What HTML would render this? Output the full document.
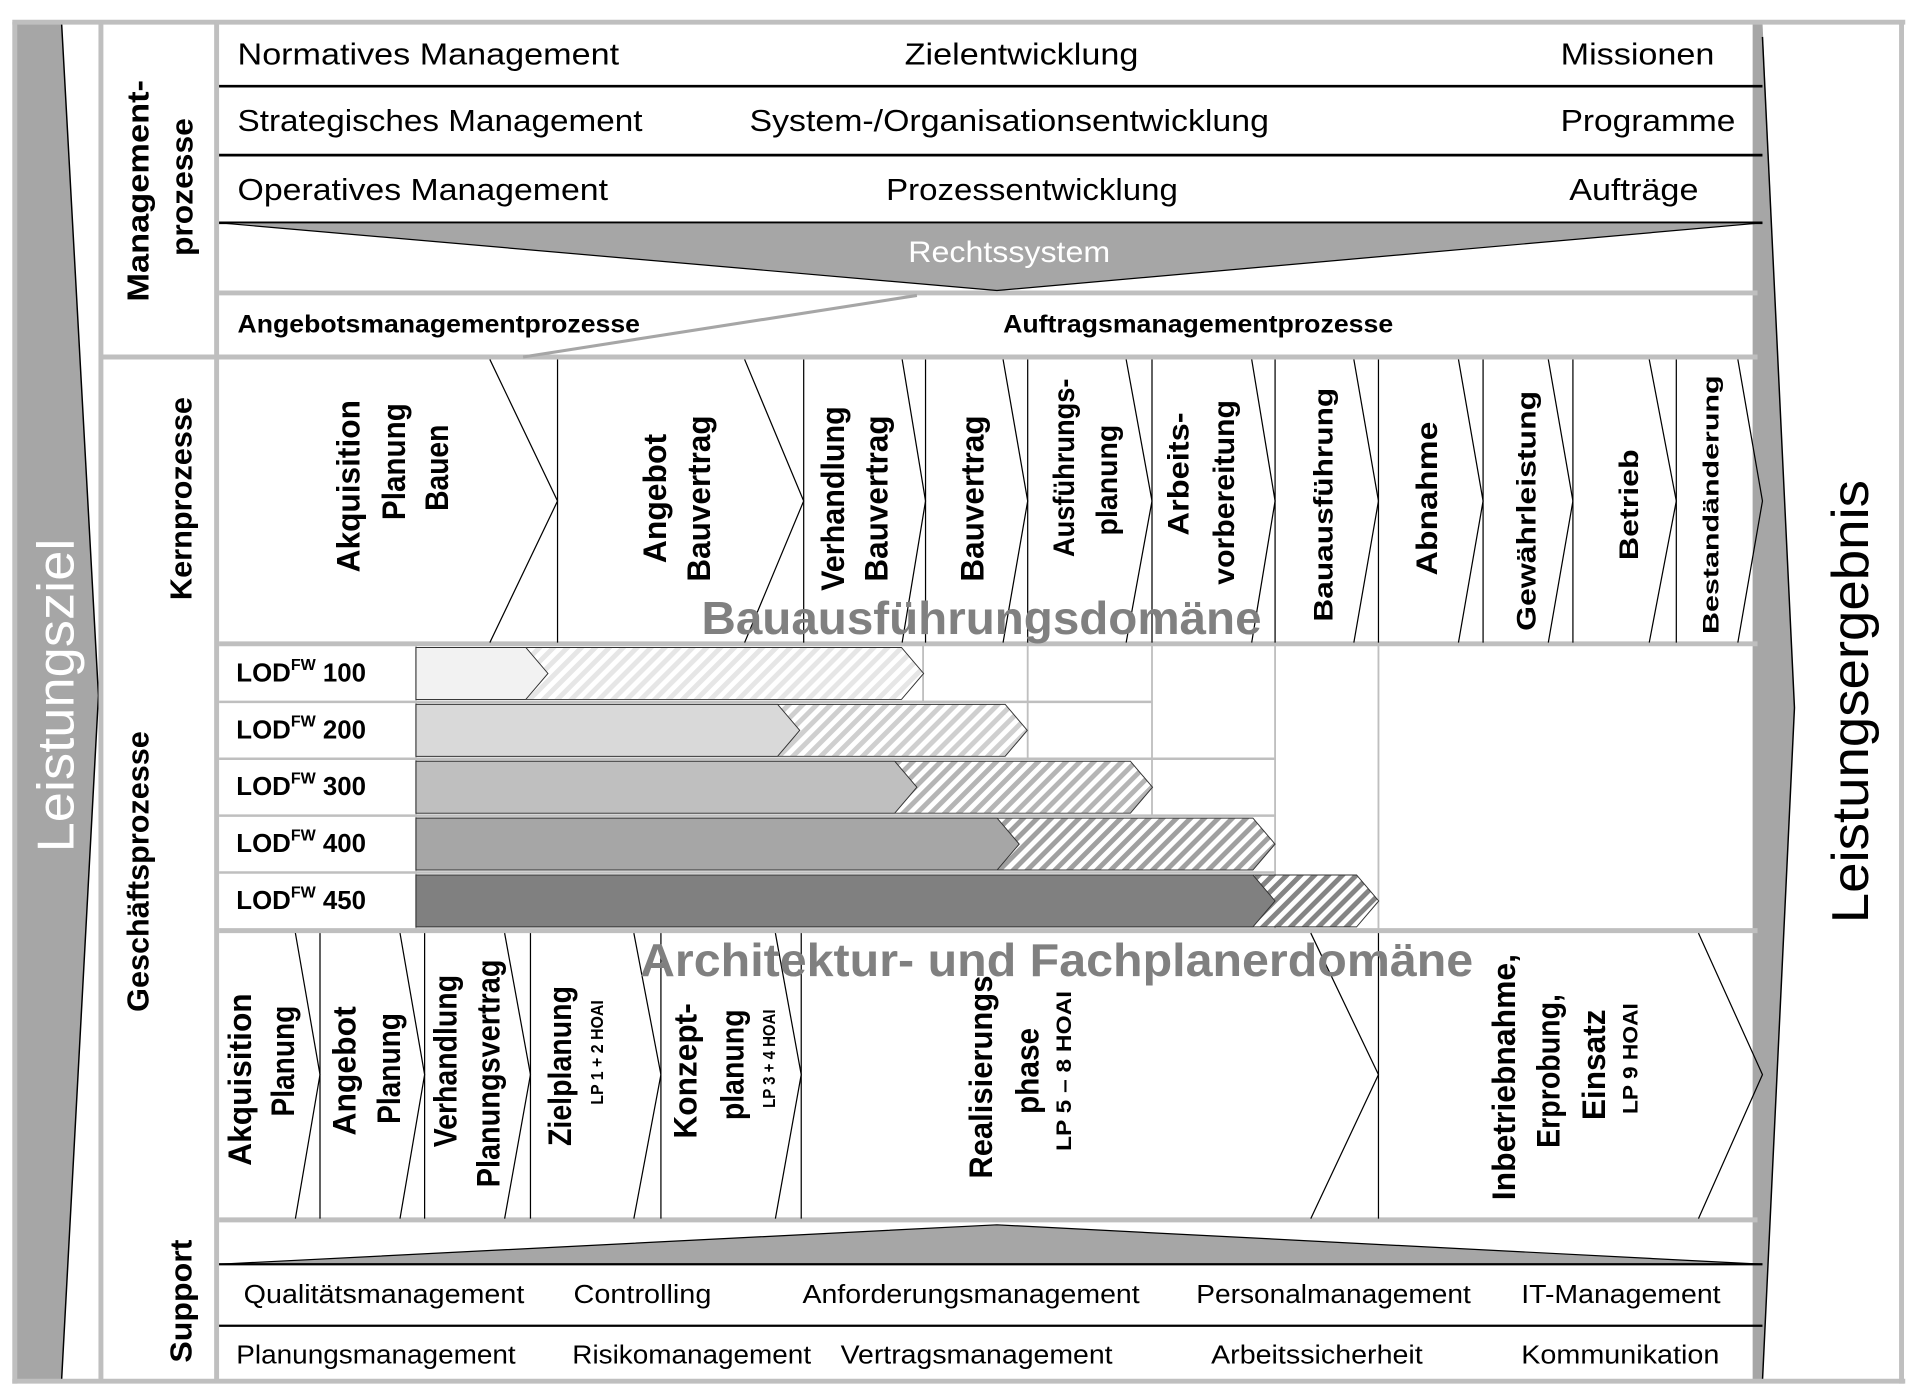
<!DOCTYPE html>
<html><head><meta charset="utf-8"><style>
html,body{margin:0;padding:0;background:#fff}
svg{display:block}
text{font-family:"Liberation Sans",sans-serif}
.b{font-weight:bold}
</style></head><body>
<svg id="s" width="1920" height="1391" viewBox="0 0 1560 1130" preserveAspectRatio="none">
<defs>
<pattern id="h0" width="8" height="8" patternUnits="userSpaceOnUse" patternTransform="rotate(45)"><rect width="8" height="8" fill="#fff"/><rect width="4" height="8" fill="#e6e6e6"/></pattern>
<pattern id="h1" width="8" height="8" patternUnits="userSpaceOnUse" patternTransform="rotate(45)"><rect width="8" height="8" fill="#fff"/><rect width="4" height="8" fill="#cfcfcf"/></pattern>
<pattern id="h2" width="8" height="8" patternUnits="userSpaceOnUse" patternTransform="rotate(45)"><rect width="8" height="8" fill="#fff"/><rect width="4" height="8" fill="#b5b5b5"/></pattern>
<pattern id="h3" width="8" height="8" patternUnits="userSpaceOnUse" patternTransform="rotate(45)"><rect width="8" height="8" fill="#fff"/><rect width="4" height="8" fill="#a0a0a0"/></pattern>
<pattern id="h4" width="8" height="8" patternUnits="userSpaceOnUse" patternTransform="rotate(45)"><rect width="8" height="8" fill="#fff"/><rect width="4" height="8" fill="#858585"/></pattern>
</defs>
<polygon points="12,18 50,18 80,565 50,1122 12,1122" fill="#a6a6a6"/>
<polyline points="50,18 80,565 50,1122" fill="none" stroke="#000" stroke-width="1.2"/>
<polygon points="1424,18 1432,18 1458,575 1432,1122 1424,1122" fill="#a6a6a6"/>
<polyline points="1432,30 1458,575 1432,1122" fill="none" stroke="#000" stroke-width="1.2"/>
<text transform="translate(45,565) rotate(-90)" text-anchor="middle" dominant-baseline="central" font-size="42" fill="#fff" textLength="255">Leistungsziel</text>
<text transform="translate(1503,570) rotate(-90)" text-anchor="middle" dominant-baseline="central" font-size="42" fill="#000" textLength="360">Leistungsergebnis</text>
<g stroke="#bfbfbf" stroke-width="4" fill="none">
<line x1="10" y1="18" x2="1548" y2="18"/>
<line x1="10" y1="1122" x2="1548" y2="1122"/>
<line x1="12" y1="18" x2="12" y2="1124"/>
<line x1="1545" y1="18" x2="1545" y2="1124"/>
<line x1="82" y1="18" x2="82" y2="1122"/>
<line x1="176" y1="18" x2="176" y2="1122"/>
<line x1="178" y1="238" x2="1428" y2="238"/>
<line x1="82" y1="290" x2="1428" y2="290"/>
<line x1="178" y1="523" x2="1428" y2="523"/>
<line x1="178" y1="756" x2="1428" y2="756"/>
<line x1="178" y1="991" x2="1428" y2="991"/>
</g>
<g stroke="#000" stroke-width="2.2">
<line x1="178" y1="70" x2="1432" y2="70"/><line x1="178" y1="126" x2="1432" y2="126"/><line x1="178" y1="181" x2="1432" y2="181"/>
</g>
<g font-size="25" dominant-baseline="central">
<text x="193" y="44" textLength="310">Normatives Management</text>
<text x="735" y="44" textLength="190">Zielentwicklung</text>
<text x="1268" y="44" textLength="125">Missionen</text>
<text x="193" y="98" textLength="329">Strategisches Management</text>
<text x="609" y="98" textLength="422">System-/Organisationsentwicklung</text>
<text x="1268" y="98" textLength="142">Programme</text>
<text x="193" y="154" textLength="301">Operatives Management</text>
<text x="720" y="154" textLength="237">Prozessentwicklung</text>
<text x="1275" y="154" textLength="105">Aufträge</text>
</g>
<polygon points="178,181 1432,181 810,236" fill="#a6a6a6" stroke="#000" stroke-width="1"/>
<text x="738" y="205" font-size="24" fill="#fff" dominant-baseline="central" textLength="164">Rechtssystem</text>
<line x1="745" y1="240" x2="425" y2="290" stroke="#a6a6a6" stroke-width="2.5"/>
<text class="b" x="193" y="264" font-size="20" dominant-baseline="central" textLength="327">Angebotsmanagementprozesse</text>
<text class="b" x="815" y="264" font-size="20" dominant-baseline="central" textLength="317">Auftragsmanagementprozesse</text>
<g class="b" font-size="25" text-anchor="middle" dominant-baseline="central">
<text transform="translate(112,155) rotate(-90)" textLength="180">Management-</text>
<text transform="translate(148,152) rotate(-90)" textLength="112">prozesse</text>
<text transform="translate(147,405) rotate(-90)" textLength="165">Kernprozesse</text>
<text transform="translate(112,708) rotate(-90)" textLength="228">Geschäftsprozesse</text>
<text transform="translate(147,1057) rotate(-90)" textLength="100">Support</text>
</g>
<g id="kern"></g>
<g id="lod"></g>
<g id="arch"></g>
<text class="b" x="570" y="502" font-size="38" fill="#808080" dominant-baseline="central" textLength="455">Bauausführungsdomäne</text>
<text class="b" x="520" y="780" font-size="38" fill="#808080" dominant-baseline="central" textLength="677">Architektur- und Fachplanerdomäne</text>
<polygon points="178,1027 810,995 1432,1027" fill="#a6a6a6" stroke="#000" stroke-width="1"/>
<line x1="178" y1="1027" x2="1432" y2="1027" stroke="#000" stroke-width="1.8"/>
<line x1="178" y1="1077" x2="1432" y2="1077" stroke="#000" stroke-width="1.8"/>
<g font-size="21" dominant-baseline="central">
<text x="198" y="1052" textLength="228">Qualitätsmanagement</text>
<text x="466" y="1052" textLength="112">Controlling</text>
<text x="652" y="1052" textLength="274">Anforderungsmanagement</text>
<text x="972" y="1052" textLength="223">Personalmanagement</text>
<text x="1236" y="1052" textLength="162">IT-Management</text>
<text x="192" y="1101" textLength="227">Planungsmanagement</text>
<text x="465" y="1101" textLength="194">Risikomanagement</text>
<text x="683" y="1101" textLength="221">Vertragsmanagement</text>
<text x="984" y="1101" textLength="172">Arbeitssicherheit</text>
<text x="1236" y="1101" textLength="161">Kommunikation</text>
</g>
</svg>
<script>
// ---- data ----
const lodLevels = ["100","200","300","400","450"];
const lodSolidEnd = [9.8, 28.5, 37.2, 44.8, 63.8];   // % of LOD track
const lodHatchEnd = [37.7, 45.4, 54.7, 63.8, 71.5];  // % of LOD track
const lodSolidColors = ["#f2f2f2","#d9d9d9","#bfbfbf","#a6a6a6","#808080"];
const kernEnds = [453,653,752,835,936,1036,1120,1205,1278,1362,1432];
const archEnds = [260,345,431,537,651,1120,1432];

const NS="http://www.w3.org/2000/svg";
function mk(tag,attrs,parent){const e=document.createElementNS(NS,tag);for(const k in attrs)e.setAttribute(k,attrs[k]);parent.appendChild(e);return e;}
const xScale = v => 338 + v/100*(1432-338);
const TIP = 18;

const kern=document.getElementById('kern');
const kernTexts=[
 [["Akquisition",283,395,140,26],["Planung",320,375,95,26],["Bauen",355,380,70,26]],
 [["Angebot",532,405,105,26],["Bauvertrag",568,405,135,26]],
 [["Verhandlung",677,405,150,26],["Bauvertrag",712,405,135,26]],
 [["Bauvertrag",790,405,135,26]],
 [["Ausführungs-",865,380,145,24],["planung",900,390,90,24]],
 [["Arbeits-",958,385,100,24],["vorbereitung",995,400,150,24]],
 [["Bauausführung",1075,410,190,22]],
 [["Abnahme",1160,405,125,24]],
 [["Gewährleistung",1240,415,195,22]],
 [["Betrieb",1323,410,90,22]],
 [["Bestandänderung",1390,410,210,18]]];
const kernOff=[55,48,19,20,21,19,20,20,20,22,20];
kernEnds.forEach((xe,i)=>{
  if(i<kernEnds.length-1){const l=mk('line',{x1:xe,y1:292,x2:xe,y2:522,stroke:'#000','stroke-width':1},kern);
  
  }
  const p=mk('polyline',{points:`${xe-kernOff[i]},292 ${xe},407 ${xe-kernOff[i]},522`,fill:'none',stroke:'#000','stroke-width':1},kern);
  
  
  kernTexts[i].forEach(t=>{const e=mk('text',{transform:`translate(${t[1]},${t[2]}) rotate(-90)`,'text-anchor':'middle','dominant-baseline':'central','font-size':t[4],'font-weight':'bold',textLength:t[3]},kern);e.textContent=t[0];
  
  });
});

const lod=document.getElementById('lod');
const rowH=46.2, y0=524;
[[750,524,570],[835,524,616],[936,524,662],[1036,524,755],[1120,524,755],[338,524,755]].forEach(v=>{mk('line',{x1:v[0],y1:v[1],x2:v[0],y2:v[2],stroke:'#bfbfbf','stroke-width':1.5},lod);});
lodLevels.forEach((lv,i)=>{
  const y=y0+i*rowH;
  if(i>0){mk('line',{x1:178,y1:y,x2:i<3?[835,936,1036][i]:1036,y2:y,stroke:'#bfbfbf','stroke-width':2},lod);}
  const yt=y+2, yb=y+rowH-2, ym=(yt+yb)/2;
  const hx=xScale(lodHatchEnd[i]), sx=xScale(lodSolidEnd[i]);
  const h=mk('polygon',{points:`338,${yt} ${hx-TIP},${yt} ${hx},${ym} ${hx-TIP},${yb} 338,${yb}`,fill:`url(#h${i})`,stroke:'#333','stroke-width':0.8},lod);
  
  
  const s=mk('polygon',{points:`338,${yt} ${sx-TIP},${yt} ${sx},${ym} ${sx-TIP},${yb} 338,${yb}`,fill:lodSolidColors[i],stroke:'#333','stroke-width':0.8},lod);
  
  
  const t=mk('text',{x:192,y:ym,'font-size':21,'font-weight':'bold','dominant-baseline':'central'},lod);
  
  
  t.appendChild(document.createTextNode('LOD'));
  const sup=mk('tspan',{'font-size':13,dy:-7},t);sup.textContent='FW';
  const rest=mk('tspan',{dy:7},t);rest.textContent=' '+lv;
});

const arch=document.getElementById('arch');
const archOff=[20,20,21,22,21,55,52];
const archTexts=[
 [["Akquisition",195,877,140,26],["Planung",230,862,90,26]],
 [["Angebot",280,870,105,26],["Planung",316,868,90,26]],
 [["Verhandlung",362,862,140,26],["Planungsvertrag",397,872,185,26]],
 [["Zielplanung",455,866,130,26],["LP 1 + 2  HOAI",485,855,85,14]],
 [["Konzept-",557,870,110,26],["planung",595,865,90,26],["LP 3 + 4  HOAI",625,860,80,14]],
 [["Realisierungs",797,875,165,26],["phase",835,870,70,26],["LP  5 – 8  HOAI",865,870,130,17]],
 [["Inbetriebnahme,",1222,875,200,26],["Erprobung,",1258,870,125,26],["Einsatz",1295,865,90,26],["LP  9 HOAI",1325,860,90,17]]];
archEnds.forEach((xe,i)=>{
  if(i<archEnds.length-1){const l=mk('line',{x1:xe,y1:758,x2:xe,y2:990,stroke:'#000','stroke-width':1},arch);
  
  }
  const p=mk('polyline',{points:`${xe-archOff[i]},758 ${xe},873 ${xe-archOff[i]},990`,fill:'none',stroke:'#000','stroke-width':1},arch);
  
  
  archTexts[i].forEach(t=>{const e=mk('text',{transform:`translate(${t[1]},${t[2]}) rotate(-90)`,'text-anchor':'middle','dominant-baseline':'central','font-size':t[4],'font-weight':'bold',textLength:t[3]},arch);e.textContent=t[0];
  
  });
});

document.querySelectorAll('text[textLength]').forEach(t=>t.setAttribute('lengthAdjust','spacingAndGlyphs'));
</script>
</body></html>
